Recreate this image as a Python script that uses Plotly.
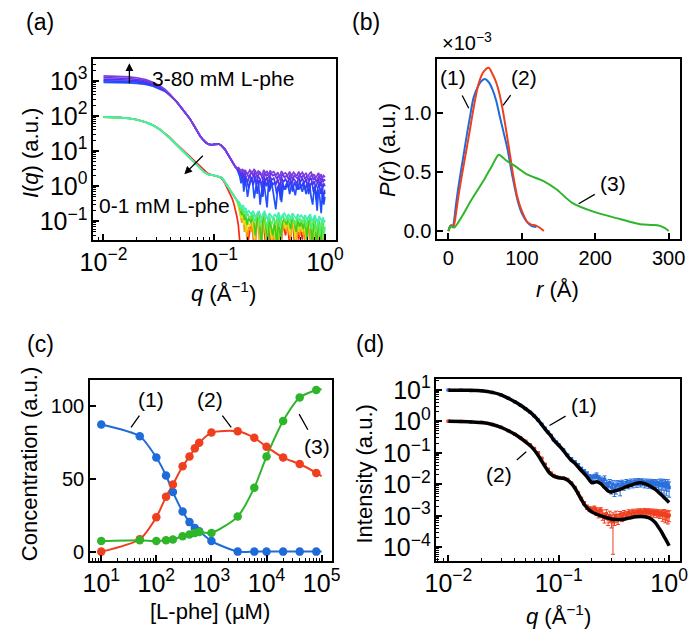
import plotly.graph_objects as go

FONT = "Liberation Sans, Arial, Helvetica, sans-serif"

# ---------------- Panel (a): SAXS curves ----------------
q_a_smooth = [0.010, 0.012, 0.014, 0.017, 0.020, 0.024, 0.028, 0.032, 0.036, 0.040,
              0.045, 0.050, 0.055, 0.060, 0.065, 0.070, 0.075, 0.080, 0.085, 0.090,
              0.095, 0.100, 0.105, 0.110, 0.115, 0.120, 0.125, 0.130, 0.135, 0.140,
              0.145, 0.150, 0.155, 0.160]
q_a_noise = [0.165, 0.17, 0.175, 0.18, 0.185, 0.19, 0.195, 0.2,
             0.21, 0.22, 0.23, 0.24, 0.25, 0.26, 0.27, 0.28, 0.29, 0.30, 0.31, 0.32, 0.33,
             0.345, 0.36, 0.375, 0.39, 0.405, 0.42,
             0.44, 0.46, 0.48, 0.50, 0.52, 0.54, 0.56, 0.58, 0.60,
             0.625, 0.65, 0.675, 0.70, 0.725, 0.75, 0.775, 0.80, 0.825, 0.85, 0.875, 0.90,
             0.925, 0.95, 0.975, 1.0]
q_a_noise_b = [0.1675, 0.1725, 0.1775, 0.1825, 0.1875, 0.1925, 0.1975, 0.205,
               0.215, 0.225, 0.235, 0.245, 0.255, 0.265, 0.275, 0.285, 0.295, 0.305, 0.315,
               0.325, 0.3375,
               0.3525, 0.3675, 0.3825, 0.3975, 0.4125, 0.43,
               0.45, 0.47, 0.49, 0.51, 0.53, 0.55, 0.57, 0.59, 0.6125,
               0.6375, 0.6625, 0.6875, 0.7125, 0.7375, 0.7625, 0.7875, 0.8125, 0.8375,
               0.8625, 0.8875, 0.9125, 0.9375, 0.9625, 0.9875, 0.995]

# 3-80 mM group
a_up1_lowq = [900, 898, 890, 875, 850, 790, 700, 600, 500, 385]
a_up2_lowq = [1000, 995, 985, 965, 930, 860, 750, 635, 520, 392]
a_up3_lowq = [1100, 1095, 1080, 1055, 1010, 920, 795, 665, 535, 398]
a_up4_lowq = [1230, 1220, 1200, 1165, 1105, 995, 845, 695, 550, 405]
a_up5_lowq = [1380, 1370, 1345, 1300, 1220, 1080, 905, 730, 565, 412]
a_up_mid = [270, 178, 123, 85, 56, 37, 26, 20.4, 17.0, 15.5, 15.1, 15.5, 15.8, 15.8,
            14.8, 13.2, 11.2, 9.1, 7.4, 6.0, 5.0, 4.2, 3.6, 3.2]
a_up1_noise = [2.6, 1.9, 1.2, 2.1, 0.7, 1.6, 1.0, 0.5,
               1.3, 1.8, 0.45, 1.1, 1.5, 0.3, 0.9, 1.4, 0.6, 0.25, 1.2, 0.8, 1.3,
               0.5, 0.22, 0.9, 1.2, 0.35, 1.0,
               0.8, 1.3, 0.6, 1.1, 0.9, 0.55, 1.2, 0.8, 1.0,
               0.7, 1.1, 0.6, 0.9, 1.2, 0.5, 0.3, 0.9, 0.6, 0.2, 0.8, 0.45, 0.17, 0.7, 0.3, 0.5]
a_up2_noise = [2.8, 2.2, 1.6, 2.4, 1.1, 1.9, 1.4, 0.9,
               1.7, 1.1, 1.9, 0.6, 1.5, 1.2, 0.5, 1.6, 1.0, 1.4, 0.7, 1.5, 1.1,
               1.3, 0.6, 1.1, 0.4, 1.4, 0.8,
               1.2, 0.9, 1.5, 0.7, 1.3, 1.0, 0.8, 1.4, 0.9,
               1.3, 0.8, 1.2, 0.6, 1.1, 1.3, 0.7, 1.0, 0.4, 0.9, 1.2, 0.6, 0.9, 0.35, 0.8, 0.6]
a_up3_noise = [3.0, 2.5, 2.0, 2.6, 1.6, 2.2, 1.8, 1.3,
               2.1, 1.5, 2.3, 1.2, 1.9, 1.6, 1.0, 2.0, 1.4, 1.8, 1.1, 1.9, 1.5,
               1.7, 1.1, 1.6, 0.9, 1.8, 1.3,
               1.6, 1.2, 1.9, 1.1, 1.7, 1.4, 1.2, 1.8, 1.3,
               1.7, 1.2, 1.6, 1.0, 1.5, 1.7, 1.1, 1.4, 0.9, 1.3, 1.6, 1.0, 1.4, 0.8, 1.2, 1.0]
a_up4_noise = [3.2, 2.8, 2.4, 2.9, 2.0, 2.6, 2.2, 1.8,
               2.5, 2.0, 2.8, 1.7, 2.4, 2.1, 1.5, 2.5, 1.9, 2.3, 1.6, 2.4, 2.0,
               2.2, 1.6, 2.1, 1.4, 2.3, 1.8,
               2.0, 1.6, 2.3, 1.5, 2.1, 1.8, 1.6, 2.2, 1.7,
               2.1, 1.6, 2.0, 1.4, 1.9, 2.1, 1.5, 1.8, 1.3, 1.7, 2.0, 1.4, 1.8, 1.3, 1.6, 1.4]
a_up5_noise = [3.4, 3.0, 2.7, 3.1, 2.4, 2.9, 2.5, 2.2,
               2.9, 2.4, 3.1, 2.1, 2.7, 2.5, 2.0, 2.9, 2.3, 2.7, 2.0, 2.8, 2.4,
               2.6, 2.0, 2.5, 1.8, 2.7, 2.2,
               2.4, 2.0, 2.6, 1.9, 2.5, 2.2, 2.0, 2.6, 2.1,
               2.5, 2.0, 2.4, 1.8, 2.3, 2.5, 1.9, 2.2, 1.7, 2.1, 2.4, 1.8, 2.2, 1.7, 2.0, 1.8]
a_up_colors = ["#2050ff", "#2a3ff8", "#4b35ef", "#6734e6", "#7f3ddf"]

# 0-1 mM group
a_low_mid = [93, 92, 90, 85, 78, 66, 54, 42, 31, 23, 15.8, 11.2, 8.3, 6.3, 5.0, 4.0, 3.2,
             2.6, 2.3, 2.1, 2.1, 2.0, 2.0, 1.9, 1.8, 1.6, 1.32, 1.10, 0.91, 0.76, 0.63,
             0.54, 0.47, 0.40]
a_red_smooth = [94, 93, 91, 86, 79, 67, 55, 43, 32, 24, 16.5, 12, 9.0, 7.0, 5.6, 4.6, 3.7,
                3.0, 2.5, 2.2, 2.1, 2.0, 1.95, 1.85, 1.7, 1.5, 1.2, 0.95, 0.75, 0.58, 0.45,
                0.33, 0.22, 0.14]
a_red_noise = [0.08, 0.02, 0.01, 0.01, 0.02, 0.01, 0.01, 0.02,
               0.05, 0.16, 0.01, 0.08, 0.19, 0.01, 0.04, 0.17, 0.02, 0.01, 0.12, 0.04, 0.01,
               0.05, 0.01, 0.1, 0.01, 0.03, 0.09,
               0.04, 0.09, 0.02, 0.1, 0.06, 0.01, 0.09, 0.03, 0.07,
               0.03, 0.08, 0.01, 0.07, 0.1, 0.01, 0.03, 0.08, 0.01, 0.02, 0.11, 0.01, 0.02, 0.06, 0.01, 0.01]
a_orange_noise = [0.26, 0.16, 0.09, 0.15, 0.05, 0.1, 0.03, 0.07,
                  0.05, 0.12, 0.02, 0.09, 0.17, 0.02, 0.06, 0.12, 0.03, 0.02, 0.11, 0.05, 0.02,
                  0.06, 0.02, 0.11, 0.02, 0.05, 0.1,
                  0.05, 0.1, 0.03, 0.11, 0.07, 0.02, 0.1, 0.04, 0.08,
                  0.04, 0.09, 0.02, 0.08, 0.1, 0.02, 0.04, 0.09, 0.02, 0.03, 0.08, 0.02, 0.03, 0.07, 0.02, 0.02]
a_yellow_noise = [0.28, 0.19, 0.12, 0.18, 0.08, 0.13, 0.05, 0.1,
                  0.07, 0.13, 0.03, 0.1, 0.16, 0.02, 0.08, 0.13, 0.04, 0.02, 0.12, 0.06, 0.03,
                  0.08, 0.02, 0.12, 0.02, 0.07, 0.11,
                  0.06, 0.11, 0.04, 0.12, 0.08, 0.03, 0.11, 0.05, 0.09,
                  0.05, 0.1, 0.02, 0.09, 0.11, 0.02, 0.05, 0.1, 0.02, 0.04, 0.09, 0.02, 0.04, 0.08, 0.02, 0.02]
a_green_noise = [0.3, 0.22, 0.15, 0.21, 0.11, 0.16, 0.08, 0.13,
                 0.09, 0.15, 0.04, 0.12, 0.14, 0.02, 0.1, 0.15, 0.06, 0.02, 0.13, 0.08, 0.04,
                 0.1, 0.02, 0.13, 0.03, 0.09, 0.12,
                 0.08, 0.12, 0.06, 0.13, 0.09, 0.05, 0.12, 0.07, 0.1,
                 0.06, 0.11, 0.03, 0.1, 0.12, 0.02, 0.07, 0.11, 0.02, 0.05, 0.1, 0.02, 0.06, 0.09, 0.02, 0.03]
a_lgreen_noise = [0.33, 0.26, 0.2, 0.25, 0.16, 0.2, 0.13, 0.17,
                  0.12, 0.17, 0.09, 0.14, 0.16, 0.07, 0.13, 0.17, 0.1, 0.06, 0.15, 0.11, 0.08,
                  0.13, 0.08, 0.15, 0.07, 0.12, 0.14,
                  0.1, 0.14, 0.09, 0.15, 0.11, 0.08, 0.14, 0.1, 0.12,
                  0.09, 0.13, 0.07, 0.12, 0.14, 0.06, 0.1, 0.13, 0.05, 0.08, 0.12, 0.04, 0.09, 0.11, 0.03, 0.07]
a_cyan_noise = [0.36, 0.30, 0.25, 0.29, 0.21, 0.24, 0.18, 0.2,
                0.16, 0.2, 0.13, 0.17, 0.19, 0.12, 0.16, 0.2, 0.14, 0.11, 0.17, 0.15, 0.12,
                0.16, 0.13, 0.18, 0.11, 0.15, 0.17,
                0.13, 0.16, 0.12, 0.17, 0.14, 0.12, 0.16, 0.13, 0.15,
                0.12, 0.15, 0.11, 0.14, 0.16, 0.1, 0.13, 0.15, 0.11, 0.09, 0.14, 0.12, 0.1, 0.13, 0.09, 0.11]
a_low_colors = ["#ff2414", "#ff9a10", "#e2dc1a", "#3bcf22", "#55ec6a", "#3ff0b8"]

# ---------------- Panel (b): P(r) ----------------
b_r1 = [0, 2, 4, 6, 8, 10.2, 14.5, 20, 25.5, 30, 34.3, 40, 45, 49.8, 55, 60, 65, 70, 75,
        80.6, 87, 93.8, 100, 107, 113, 120]
b_p1 = [0, 0.04, 0.05, 0.04, 0.1, 0.22, 0.41, 0.62, 0.83, 0.99, 1.13, 1.22, 1.27, 1.287,
        1.26, 1.2, 1.106, 0.97, 0.84, 0.69, 0.47, 0.27, 0.15, 0.078, 0.045, 0.035]
b_r2 = [0, 2, 4, 6, 8, 11, 14.5, 20, 27.7, 34, 41, 48, 55, 60, 65, 69.6, 75, 82.8, 88,
        93.8, 100, 107, 113, 118, 124, 130]
b_p2 = [0, 0.03, 0.05, 0.03, 0.06, 0.18, 0.33, 0.53, 0.8, 1.03, 1.245, 1.35, 1.383, 1.33,
        1.26, 1.16, 0.99, 0.69, 0.48, 0.29, 0.17, 0.08, 0.055, 0.05, 0.03, 0]
b_r3 = [0, 3, 6, 8, 12, 20, 30, 40, 50, 60, 68.7, 78.3, 93.8, 107, 129, 146.6, 168.7,
        199.5, 234.7, 261, 275, 285, 295, 300]
b_p3 = [0, 0.04, 0.035, 0.03, 0.06, 0.14, 0.25, 0.35, 0.45, 0.56, 0.647, 0.6, 0.537,
        0.48, 0.425, 0.356, 0.239, 0.16, 0.1, 0.058, 0.052, 0.05, 0.025, 0]

# ---------------- Panel (c): concentrations ----------------
c_lphe = [10, 50, 100, 150, 200, 300, 400, 500, 600, 1000, 3000, 6000, 10000, 20000,
          40000, 80000]
c_sp1 = [87.1, 79.0, 64.4, 52.1, 40.8, 27.4, 20.2, 16.2, 14.0, 7.2, 0, 0, 0, 0, 0, 0]
c_sp2 = [0, 8.5, 23.6, 37.5, 46.0, 58.4, 65.1, 70.7, 74.5, 81.5, 82.4, 77.9, 71.8, 64.4,
         60.0, 53.9]
c_sp3 = [7.2, 7.8, 7.2, 7.8, 8.3, 10.5, 11.7, 12.8, 13.5, 12.8, 24.0, 43.8, 65.1, 89.4,
         105.5, 110.7]
c_fit_end_x = 100000
c_fit_end = [0, 51.6, 111.2]

# ---------------- Panel (d): data and fits ----------------
d_q = [0.01, 0.013, 0.016, 0.02, 0.025, 0.03, 0.035, 0.04, 0.045, 0.05, 0.055, 0.06,
       0.065, 0.07, 0.075, 0.08, 0.085, 0.09, 0.095, 0.1, 0.11, 0.12, 0.13, 0.14, 0.15,
       0.16,
       0.17, 0.18, 0.19, 0.2, 0.21, 0.22, 0.23, 0.24, 0.25, 0.26, 0.27, 0.28, 0.29, 0.3,
       0.31, 0.32, 0.33, 0.345, 0.36, 0.375, 0.39, 0.41, 0.43, 0.45, 0.47, 0.49, 0.51,
       0.53, 0.55, 0.575, 0.6, 0.625, 0.65, 0.675, 0.7, 0.725, 0.75, 0.775, 0.8, 0.825,
       0.85, 0.875, 0.9, 0.925, 0.95, 0.975, 1.0]
d_i1 = [9.8, 9.7, 9.55, 9.3, 8.3, 6.9, 5.4, 4.2, 3.25, 2.5, 1.95, 1.48, 1.1, 0.81, 0.6,
        0.457, 0.355, 0.263, 0.219, 0.182, 0.126, 0.085, 0.0646, 0.0525, 0.0417, 0.0316,
        0.0263, 0.0219, 0.0174, 0.0162, 0.0178, 0.019, 0.0158, 0.0141, 0.0126, 0.0145,
        0.0105, 0.0089, 0.0112, 0.0079, 0.01, 0.0071, 0.0089,
        0.01, 0.0083, 0.0105, 0.0095,
        0.0112, 0.0102, 0.0117, 0.0107, 0.012, 0.011, 0.0123, 0.0112,
        0.012, 0.0107, 0.0117, 0.0105, 0.0115, 0.0102, 0.0112, 0.01, 0.011, 0.0095,
        0.0107, 0.0093, 0.0105, 0.0089, 0.0102, 0.0083, 0.01, 0.0079]
d_e1 = [0.3, 0.3, 0.3, 0.28, 0.25, 0.2, 0.16, 0.12, 0.1, 0.08, 0.06, 0.045, 0.035, 0.025,
        0.018, 0.014, 0.011, 0.008, 0.007, 0.006, 0.005, 0.004, 0.003, 0.003, 0.003, 0.003,
        0.003, 0.003, 0.003, 0.003, 0.003, 0.004, 0.003, 0.003, 0.003, 0.004, 0.003,
        0.003, 0.003, 0.003, 0.003, 0.003, 0.004,
        0.003, 0.004, 0.003, 0.003,
        0.003, 0.003, 0.003, 0.003, 0.003, 0.003, 0.003, 0.003,
        0.003, 0.003, 0.003, 0.003, 0.003, 0.003, 0.003, 0.003, 0.003, 0.003,
        0.004, 0.004, 0.004, 0.004, 0.004, 0.004, 0.004, 0.004]
d_i2 = [1.0, 0.99, 0.955, 0.912, 0.794, 0.646, 0.501, 0.389, 0.302, 0.234, 0.182, 0.138,
        0.1, 0.0676, 0.0437, 0.0302, 0.0229, 0.0191, 0.0174, 0.0166, 0.0158, 0.0141,
        0.011, 0.0079, 0.00525, 0.00355,
        0.00251, 0.0019, 0.00166, 0.00158, 0.00174, 0.00141, 0.00126, 0.00151, 0.00112,
        0.00089, 0.00117, 0.00079, 0.001, 0.00071, 0.00065, 0.00079, 0.001,
        0.00083, 0.00107, 0.00095, 0.00117,
        0.00105, 0.00126, 0.00115, 0.00132, 0.0012, 0.00135, 0.00126, 0.00138,
        0.00126, 0.00141, 0.00129, 0.00138, 0.00126, 0.00135, 0.0012, 0.00132, 0.00117,
        0.00126, 0.00112, 0.00123, 0.00107, 0.00117, 0.001, 0.0011, 0.00095, 0.00105]
d_e2 = [0.03, 0.03, 0.03, 0.03, 0.025, 0.02, 0.015, 0.012, 0.009, 0.007, 0.005, 0.004,
        0.003, 0.002, 0.0015, 0.001, 0.0008, 0.0006, 0.0005, 0.0005, 0.0005, 0.0004,
        0.0004, 0.0003, 0.0003, 0.0003,
        0.0003, 0.0003, 0.0003, 0.0003, 0.0003, 0.0004, 0.0004, 0.0003, 0.0004, 0.0003,
        0.0004, 0.0003, 0.0004, 0.0003, 0.00059, 0.0003, 0.0004,
        0.0003, 0.0003, 0.0003, 0.0003,
        0.0003, 0.0003, 0.0003, 0.0003, 0.0003, 0.0003, 0.0003, 0.0003,
        0.0003, 0.0003, 0.0003, 0.0003, 0.0003, 0.0003, 0.0003, 0.0003, 0.0003, 0.0003,
        0.0003, 0.0003, 0.0004, 0.0004, 0.0004, 0.0004, 0.0004, 0.0004]
d_fit_q = [0.01, 0.015, 0.02, 0.025, 0.03, 0.035, 0.04, 0.045, 0.05, 0.055, 0.06, 0.065,
           0.07, 0.075, 0.08, 0.085, 0.09, 0.095, 0.1, 0.11, 0.12, 0.13, 0.14, 0.15, 0.16,
           0.17, 0.18, 0.19, 0.2, 0.22, 0.24, 0.26, 0.28, 0.3, 0.33, 0.36, 0.4, 0.45, 0.5,
           0.55, 0.6, 0.65, 0.7, 0.75, 0.8, 0.85, 0.9, 0.95, 1.0]
d_fit1 = [9.77, 9.66, 9.33, 8.32, 6.92, 5.37, 4.17, 3.24, 2.51, 1.95, 1.48, 1.10, 0.794,
          0.575, 0.437, 0.347, 0.251, 0.209, 0.174, 0.120, 0.0794, 0.0575, 0.0468, 0.0355,
          0.0275, 0.0219, 0.0174, 0.0135, 0.0112, 0.0120, 0.0105, 0.00794, 0.00617,
          0.00575, 0.00631, 0.00692, 0.00813, 0.00933, 0.0107, 0.0112, 0.0105, 0.00933,
          0.00813, 0.00692, 0.00562, 0.00468, 0.00380, 0.00316, 0.00263]
d_fit2 = [1.0, 0.977, 0.912, 0.794, 0.646, 0.501, 0.389, 0.295, 0.224, 0.170, 0.123,
          0.0832, 0.0550, 0.0372, 0.0263, 0.0209, 0.0182, 0.0170, 0.0162, 0.0155, 0.0138,
          0.0107, 0.00759, 0.00501, 0.00331, 0.00234, 0.00182, 0.00151, 0.00132, 0.00112,
          0.00100, 0.000912, 0.000851, 0.000794, 0.000759, 0.000759, 0.000794, 0.000871,
          0.000933, 0.000955, 0.000933, 0.000871, 0.000759, 0.000603, 0.000437, 0.000316,
          0.000219, 0.000158, 0.000112]

BLUE = "#1f6bd9"
RED = "#ef3f1f"
GREEN = "#2eb52a"

fig = go.Figure()

# ---- panel (a) traces ----
up_low = [a_up1_lowq, a_up2_lowq, a_up3_lowq, a_up4_lowq, a_up5_lowq]
up_noise = [a_up1_noise, a_up2_noise, a_up3_noise, a_up4_noise, a_up5_noise]
up_grid = [q_a_noise, q_a_noise_b, q_a_noise, q_a_noise_b, q_a_noise]
for lowq, noise, grid, col in zip(up_low, up_noise, up_grid, a_up_colors):
    fig.add_trace(go.Scatter(x=q_a_smooth + grid, y=lowq + a_up_mid + noise, mode="lines",
                             line=dict(color=col, width=1.7), xaxis="x", yaxis="y"))
low_smooth = [a_red_smooth, a_low_mid, a_low_mid, a_low_mid, a_low_mid, a_low_mid]
low_noise = [a_red_noise, a_orange_noise, a_yellow_noise, a_green_noise, a_lgreen_noise,
             a_cyan_noise]
low_grid = [q_a_noise, q_a_noise_b, q_a_noise, q_a_noise_b, q_a_noise, q_a_noise_b]
for sm, noise, grid, col in zip(low_smooth, low_noise, low_grid, a_low_colors):
    fig.add_trace(go.Scatter(x=q_a_smooth + grid, y=sm + noise, mode="lines",
                             line=dict(color=col, width=1.7), xaxis="x", yaxis="y"))

# ---- panel (b) traces ----
for r, p, col in [(b_r1, b_p1, BLUE), (b_r2, b_p2, RED), (b_r3, b_p3, GREEN)]:
    fig.add_trace(go.Scatter(x=r, y=p, mode="lines",
                             line=dict(color=col, width=2, shape="spline", smoothing=0.8),
                             xaxis="x2", yaxis="y2"))

# ---- panel (c) traces ----
for vals, end, col in [(c_sp1, c_fit_end[0], BLUE), (c_sp2, c_fit_end[1], RED),
                       (c_sp3, c_fit_end[2], GREEN)]:
    fig.add_trace(go.Scatter(x=c_lphe + [c_fit_end_x], y=vals + [end], mode="lines",
                             line=dict(color=col, width=2, shape="spline", smoothing=0.7),
                             xaxis="x3", yaxis="y3"))
for vals, col in [(c_sp1, BLUE), (c_sp2, RED), (c_sp3, GREEN)]:
    fig.add_trace(go.Scatter(x=c_lphe, y=vals, mode="markers",
                             marker=dict(color=col, size=8.5), xaxis="x3", yaxis="y3"))

# ---- panel (d) traces ----
for vals, err, col in [(d_i1, d_e1, "#2a6fdc"), (d_i2, d_e2, RED)]:
    fig.add_trace(go.Scatter(x=d_q, y=vals, mode="markers",
                             marker=dict(color=col, size=3.5, symbol="square"),
                             error_y=dict(type="data", array=err, color=col, thickness=1, width=2),
                             xaxis="x4", yaxis="y4"))
for vals in [d_fit1, d_fit2]:
    fig.add_trace(go.Scatter(x=d_fit_q, y=vals, mode="lines",
                             line=dict(color="black", width=3.5, shape="spline", smoothing=0.6),
                             xaxis="x4", yaxis="y4"))

W, H = 692, 634


def px(x):
    return x / W


def py(y):
    return 1 - y / H


def ax_base(**kw):
    d = dict(showline=True, linecolor="black", linewidth=1.5, mirror=True,
             ticks="inside", ticklen=6, tickwidth=1.5, tickcolor="black",
             showgrid=False, zeroline=False,
             tickfont=dict(family=FONT, size=20, color="black"))
    d.update(kw)
    return d


MINOR = dict(ticks="inside", ticklen=3, tickwidth=1, tickcolor="black", showgrid=False, dtick="D1")
ALIAS = {"1": "10<sup>0</sup>", "10": "10<sup>1</sup>"}

fig.update_layout(
    width=W, height=H, margin=dict(l=0, r=0, t=0, b=0),
    paper_bgcolor="white", plot_bgcolor="white", showlegend=False,
    font=dict(family=FONT, size=20, color="black"),
    xaxis=ax_base(domain=[px(82.7), px(333)], anchor="y", type="log", range=[-2.093, 0.099],
                  dtick=1, exponentformat="power", labelalias=ALIAS, minor=MINOR),
    yaxis=ax_base(domain=[py(236.7), py(53)], anchor="x", type="log", range=[-1.53, 3.616],
                  dtick=1, exponentformat="power", labelalias=ALIAS, minor=MINOR),
    xaxis2=ax_base(domain=[px(437.3), px(688.3)], anchor="y2", range=[-15.5, 316],
                   tickvals=[0, 100, 200, 300]),
    yaxis2=ax_base(domain=[py(235.7), py(53.3)], anchor="x2", range=[-0.067, 1.453],
                   tickvals=[0, 0.5, 1.0], tickformat=".1f"),
    xaxis3=ax_base(domain=[px(79.3), px(329.3)], anchor="y3", type="log", range=[0.794, 5.194],
                   dtick=1, exponentformat="power", labelalias=ALIAS, minor=MINOR),
    yaxis3=ax_base(domain=[py(562.7), py(379)], anchor="x3", range=[-6.3, 117.5],
                   tickvals=[0, 50, 100]),
    xaxis4=ax_base(domain=[px(436.7), px(687.7)], anchor="y4", type="log", range=[-2.108, 0.097],
                   dtick=1, exponentformat="power", labelalias=ALIAS, minor=MINOR),
    yaxis4=ax_base(domain=[py(562.7), py(378.3)], anchor="x4", type="log", range=[-4.43, 1.334],
                   dtick=1, exponentformat="power", labelalias=ALIAS, minor=MINOR),
)

ann = []


def paper_text(text, x, y, size=20, angle=0, xanchor="center"):
    ann.append(dict(text=text, x=px(x), y=py(y), xref="paper", yref="paper",
                    xanchor=xanchor, yanchor="middle", showarrow=False, textangle=angle,
                    font=dict(family=FONT, size=size, color="black")))


paper_text("(a)", 28, 15, 23)
paper_text("(b)", 364, 15, 23)
paper_text("(c)", 28, 342, 23)
paper_text("(d)", 368, 342, 23)
paper_text("<i>I</i>(<i>q</i>) (a.u.)", 18, 148, 22, -90)
paper_text("<i>q</i> (Å<sup>−1</sup>)", 217, 290, 22)
paper_text("<i>P</i>(<i>r</i>) (a.u.)", 386, 145, 22, -90)
paper_text("<i>r</i> (Å)", 562, 287, 22)
paper_text("Concentration (a.u.)", 17, 464, 22, -90)
paper_text("[L-phe] (µM)", 203, 614, 22)
paper_text("Intensity (a.u.)", 363, 474, 22, -90)
paper_text("<i>q</i> (Å<sup>−1</sup>)", 563, 618, 22)
paper_text("3-80 mM L-phe", 141, 73, 21, xanchor="left")
paper_text("0-1 mM L-phe", 87, 202, 21, xanchor="left")
paper_text("×10<sup>−3</sup>", 440, 35, 20, xanchor="left")


def pointer(text, x, y, axn, dx, dy, head=0, sso=0):
    ann.append(dict(text=text, x=x, y=y, xref="x" + axn, yref="y" + axn, ax=dx, ay=dy,
                    showarrow=True, arrowhead=head, arrowsize=1.2, arrowwidth=1.3,
                    arrowcolor="black", startstandoff=sso,
                    font=dict(family=FONT, size=21, color="black")))


# panel (a) arrows (log axes use log10 coordinates)
pointer(" ", -1.766, 3.50, "", 0, 33, head=2)
pointer(" ", -1.27, 0.339, "", 23, -23, head=2)
# panel (b)
pointer("(1)", 27.7, 1.04, "2", -16, -31, sso=6)
pointer("(2)", 74.4, 1.064, "2", 21, -28, sso=6)
pointer("(3)", 177.4, 0.231, "2", 34, -20, sso=4)
# panel (c)
pointer("(1)", 1.5405, 85.1, "3", 20, -28, sso=4)
pointer("(2)", 3.359, 85.1, "3", -21, -28, sso=4)
pointer("(3)", 4.592, 94.1, "3", 18, 32, sso=4)
# panel (d)
pointer("(1)", -1.0835, -0.134, "4", 34, -20, sso=4)
pointer("(2)", -1.2944, -0.969, "4", -27, 23, sso=4)

fig.update_layout(annotations=ann)
fig.write_html("out.html", config={"displayModeBar": False},
               post_script="document.body.style.margin='0';document.body.style.overflow='hidden';")
